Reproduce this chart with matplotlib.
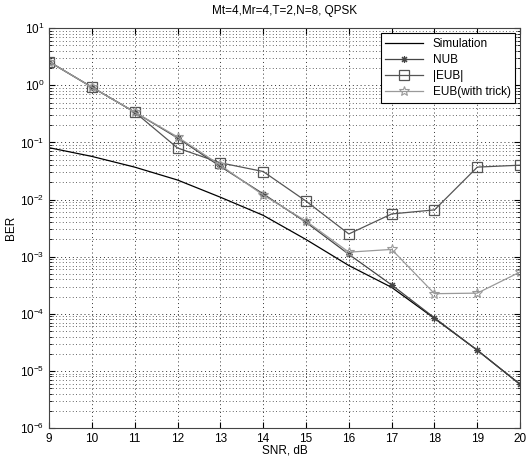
import matplotlib
matplotlib.use("Agg")
import matplotlib.pyplot as plt
from matplotlib.ticker import LogLocator, NullFormatter

plt.rcParams["font.family"] = ["Liberation Sans", "DejaVu Sans"]
plt.rcParams["font.size"] = 8.5

snr = [9, 10, 11, 12, 13, 14, 15, 16, 17, 18, 19, 20]
sim = [0.081, 0.057, 0.037, 0.022, 0.011, 0.0053, 0.0020, 7.0e-4, 2.9e-4, 8.3e-5, 2.3e-5, 5.8e-6]
nub = [2.6, 0.93, 0.34, 0.12, 0.038, 0.0126, 0.0040, 0.0011, 3.2e-4, 8.5e-5, 2.3e-5, 5.8e-6]
eub = [2.6, 0.93, 0.34, 0.080, 0.044, 0.031, 0.0094, 0.0025, 0.0056, 0.0066, 0.037, 0.040]
eub_trick = [2.6, 0.93, 0.34, 0.125, 0.040, 0.012, 0.0042, 0.0012, 0.00134, 2.25e-4, 2.3e-4, 5.4e-4]

fig = plt.figure(figsize=(5.27, 4.59), dpi=100)
ax = fig.add_axes([0.093, 0.0675, 0.894, 0.871])

ax.semilogy(snr, sim, "-", color="black", lw=0.9, label="Simulation")
ax.semilogy(snr, nub, "-", color="#454545", lw=0.9, marker=(8, 2, 0), ms=5, mew=0.8, label="NUB")
ax.semilogy(snr, eub, "-", color="#555555", lw=0.9, marker="s", ms=6.5, mfc="none", mew=0.9, label="|EUB|")
ax.semilogy(snr, eub_trick, "-", color="#9a9a9a", lw=0.9, marker="*", ms=7, mfc="none", mew=0.8,
            label="EUB(with trick)")

ax.set_xlim(9, 20)
ax.set_ylim(1e-6, 1e1)
ax.set_xticks(snr)
ax.yaxis.set_major_locator(LogLocator(base=10, numticks=20))
ax.yaxis.set_minor_locator(LogLocator(base=10, subs=range(2, 10), numticks=100))
ax.yaxis.set_minor_formatter(NullFormatter())
ax.tick_params(which="both", direction="in", top=True, right=True)
ax.tick_params(which="major", length=4)
ax.tick_params(which="minor", length=2)
ax.grid(which="major", ls=(0, (1, 3)), color="#333333", lw=0.7)
ax.grid(which="minor", axis="y", ls=(0, (1, 3)), color="#333333", lw=0.6)
for s in ax.spines.values():
    s.set_color("#444444")

ax.set_xlabel("SNR, dB", labelpad=0)
ax.set_ylabel("BER", labelpad=2)
ax.set_title("Mt=4,Mr=4,T=2,N=8, QPSK", fontsize=8.5, pad=10)

leg = ax.legend(loc="upper right", fancybox=False, framealpha=1, edgecolor="black",
                borderaxespad=0.4, handlelength=3.2, labelspacing=0.35)
leg.get_frame().set_linewidth(0.8)

fig.savefig("out.png", dpi=100)
